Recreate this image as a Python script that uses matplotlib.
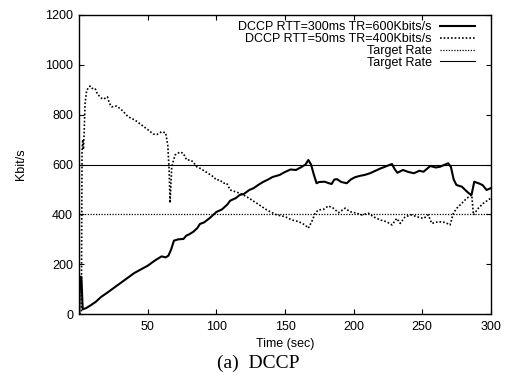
import matplotlib
matplotlib.use("Agg")
import matplotlib.pyplot as plt

# Series 1: DCCP RTT=300ms TR=600Kbits/s (solid thick)
t1 = [0, 0.5, 1.5, 2.5, 5, 8, 12, 16, 20, 25, 30, 35, 40, 45, 50, 55, 60, 63, 65, 67, 69,
      72, 76, 78, 80, 83, 86, 88, 91, 95, 98, 100, 104, 108, 110, 114, 117, 120, 124, 127,
      131, 134, 137, 141, 146, 150, 154, 158, 162, 165, 167, 169, 171, 173, 175, 179, 182,
      184, 186, 188, 191, 195, 198, 201, 205, 208, 212, 216, 220, 223, 226, 228, 230, 232,
      236, 240, 244, 248, 251, 254, 256, 260, 263, 266, 269, 271, 273, 275, 279, 282, 284,
      286, 288, 291, 294, 297, 300]
v1 = [0, 150, 150, 20, 25, 35, 50, 70, 85, 105, 125, 145, 165, 180, 195, 215, 232, 228, 235,
      260, 295, 300, 302, 315, 320, 330, 345, 362, 368, 385, 400, 410, 420, 440, 455, 465,
      478, 482, 498, 505, 520, 530, 538, 550, 558, 570, 580, 578, 590, 600, 618, 600, 560,
      525, 530, 531, 525, 522, 540, 541, 530, 525, 540, 549, 555, 558, 565, 575, 585, 591,
      598, 602, 581, 567, 578, 570, 565, 575, 571, 585, 594, 588, 591, 598, 605, 590, 540,
      518, 511, 495, 485, 478, 531, 525, 518, 498, 505]

# Series 2: DCCP RTT=50ms TR=400Kbits/s (dotted)
t2 = [0, 1.5, 2, 2.5, 3, 3.5, 4.2, 5.4, 7.8, 9, 11.5, 13, 15, 17, 18.7, 20.5, 22, 23.6, 27.3,
      31, 35.7, 40.6, 45.5, 50.3, 54, 56.5, 60, 63, 64.5, 65.5, 66.2, 67.4, 69.8, 73.4, 75.8,
      78.3, 80.7, 83, 85.6, 88, 93, 97.7, 100, 102.6, 105, 107.5, 110, 117, 122, 129.4, 136.7,
      144, 150, 155, 160, 164.6, 167, 169.5, 172, 174.3, 178, 181.6, 185.3, 189, 193.8, 197.5,
      202.3, 206, 210.8, 214.4, 219.3, 224, 228, 231.5, 234, 237.6, 242.4, 246, 251, 254.5,
      257, 262, 266.7, 270.4, 272.8, 275.3, 279, 282.6, 286.2, 287.4, 291, 294.7, 298.3, 300]
v2 = [0, 10, 650, 700, 660, 720, 845, 898, 914, 905, 905, 885, 871, 862, 865, 871, 845, 831,
      834, 818, 791, 778, 758, 738, 722, 720, 731, 727, 678, 578, 446, 591, 638, 650, 645,
      618, 618, 611, 591, 585, 568, 551, 538, 538, 525, 525, 498, 485, 471, 445, 418, 398,
      391, 378, 371, 358, 345, 371, 405, 418, 420, 434, 425, 407, 425, 411, 405, 398, 405,
      391, 378, 371, 358, 384, 364, 391, 398, 391, 384, 398, 364, 371, 368, 358, 405, 425,
      445, 465, 478, 398, 425, 445, 458, 465]

target_400 = 400
target_600 = 600
labels = ["DCCP RTT=300ms TR=600Kbits/s", "DCCP RTT=50ms TR=400Kbits/s",
          "Target Rate", "Target Rate"]
xticks = [50, 100, 150, 200, 250, 300]
yticks = [0, 200, 400, 600, 800, 1000, 1200]

plt.rcParams['font.family'] = ['Liberation Sans', 'DejaVu Sans']
FS = 9

fig = plt.figure(figsize=(5.06, 3.76), dpi=100)
ax = fig.add_axes([79.3/506, 1-314.3/376, 411.4/506, 299.6/376])

dot = (0, (1, 1.2))
ax.plot(t1, v1, color='black', lw=1.5, label=labels[0])
ax.plot(t2, v2, color='black', lw=1.2, linestyle=dot, label=labels[1])
ax.axhline(target_400, color='black', lw=0.9, linestyle=dot, label=labels[2])
ax.axhline(target_600, color='black', lw=0.8, label=labels[3])

ax.set_xlim(0, 300)
ax.set_ylim(0, 1200)
ax.set_xticks(xticks)
ax.set_yticks(yticks)
ax.tick_params(direction='in', top=True, right=True, length=3.5, width=0.8,
               labelsize=FS, pad=4.5)
for s in ax.spines.values():
    s.set_linewidth(1.0)

ax.set_xlabel("Time (sec)", fontsize=FS)
ax.xaxis.set_label_coords(0.5, (314.3-338.5)/299.6)
ax.set_ylabel("Kbit/s", fontsize=FS)
ax.yaxis.set_label_coords((27-79.3)/411.4, 0.5)

leg = ax.legend(loc='upper right', bbox_to_anchor=((475-79.3)/411.4, 1-(21.5-14.7)/299.6),
                frameon=False, markerfirst=False, fontsize=FS, borderpad=0,
                borderaxespad=0, handlelength=2.8, handletextpad=0.66, labelspacing=-0.02)

fig.text(258/506, 1-363/376, "(a)  DCCP", fontsize=14, family='Liberation Serif',
         ha='center', va='center')

fig.savefig("out.png", dpi=100)
